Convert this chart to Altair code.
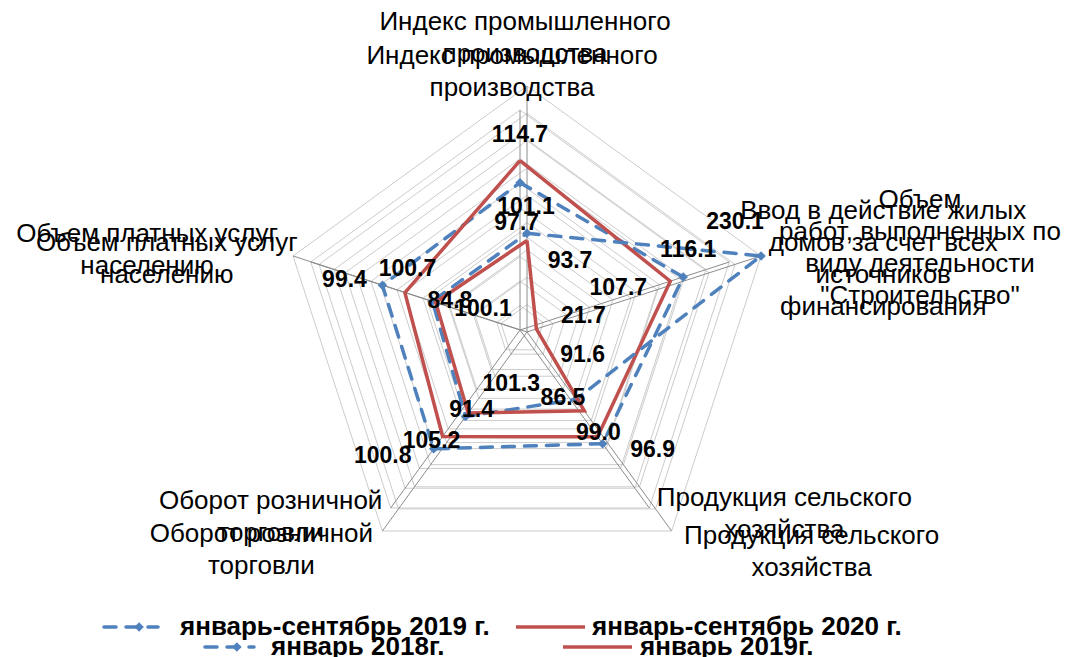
import math
import altair as alt
import pandas as pd

# ---------------- data ----------------
axis_names_1 = [
    "Индекс промышленного\nпроизводства",
    "Ввод в действие жилых\nдомов за счет всех\nисточников\nфинансирования",
    "Продукция сельского\nхозяйства",
    "Оборот розничной\nторговли",
    "Объем платных услуг\nнаселению",
]
axis_names_2 = [
    "Индекс промышленного\nпроизводства",
    "Объем\nработ, выполненных по\nвиду деятельности\n\"Строительство\"",
    "Продукция сельского\nхозяйства",
    "Оборот розничной\nторговли",
    "Объем платных услуг\nнаселению",
]
series_names = ["январь-сентябрь 2019 г.", "январь-сентябрь 2020 г.",
                "январь 2018г.", "январь 2019г."]
c1_blue = [101.1, 116.1, 96.9, 100.8, 99.4]
c1_red = [114.7, 107.7, 91.6, 91.4, 84.8]
c2_blue = [100.1, 230.1, 86.5, 105.2, 100.7]
c2_red = [93.7, 21.7, 99.0, 101.3, 97.7]

# ---------------- layout ----------------
ANGLES = [90, 18, -54, -126, 162]
GEOM = {
    1: dict(cx=520, cy=330, R=220, vmin=10, vmax=146),
    2: dict(cx=527, cy=332, R=246, vmin=13, vmax=230),
}
N_RINGS = 9
LINE_H = 32
# data-label offsets (px) from their points
LBL_OFF = {
    "c1b": [(6, 24), (5, -27), (50, 6), (-51, 7), (-38, -5)],
    "c1r": [(0, -26), (-52, 7), (-15, -82), (29, -27), (45, 8)],
    "c2b": [(-44, 76), (-26, -34), (-13, -1), (-34, 24), (-25, -32)],
    "c2r": [(43, 20), (47, -13), (14, 22), (43, -29), (81, -79)],
}
# category-label block-centre offsets (px) from axis ends
CAT_OFF = {
    1: [(-8, -38), (154, -3), (135, 6), (-120, 9), (-144, -3)],
    2: [(-2, -48), (159, -8), (140, 21), (-121, 19), (-146, -6)],
}
BLUE = "#4F81BD"
RED = "#C0504D"


def pt(g, i, v):
    gm = GEOM[g]
    r = gm["R"] * (v - gm["vmin"]) / (gm["vmax"] - gm["vmin"])
    a = math.radians(ANGLES[i])
    return gm["cx"] + r * math.cos(a), gm["cy"] - r * math.sin(a)


series = [
    ("c1b", 1, series_names[0], c1_blue, "blue"),
    ("c1r", 1, series_names[1], c1_red, "red"),
    ("c2b", 2, series_names[2], c2_blue, "blue"),
    ("c2r", 2, series_names[3], c2_red, "red"),
]

line_rows, label_rows = [], []
for key, g, name, vals, col in series:
    for j in range(6):
        i = j % 5
        x, y = pt(g, i, vals[i])
        line_rows.append(dict(key=key, series=name, col=col, order=j, x=x, y=y, v=vals[i]))
        if j < 5:
            dx, dy = LBL_OFF[key][i]
            label_rows.append(dict(key=key, x=x + dx, y=y + dy, text=f"{vals[i]:.1f}"))
lines = pd.DataFrame(line_rows)
labels = pd.DataFrame(label_rows)

ring_rows, spoke_rows, cat_rows = [], [], []
for g in (1, 2):
    gm = GEOM[g]
    for k in range(1, N_RINGS + 1):
        lv = gm["vmin"] + (gm["vmax"] - gm["vmin"]) * k / N_RINGS
        for j in range(6):
            x, y = pt(g, j % 5, lv)
            ring_rows.append(dict(ring=f"{g}-{k}", order=j, x=x, y=y))
    names = axis_names_1 if g == 1 else axis_names_2
    for i in range(5):
        x2, y2 = pt(g, i, gm["vmax"])
        spoke_rows.append(dict(x=gm["cx"], y=gm["cy"], x2=x2, y2=y2))
        dx, dy = CAT_OFF[g][i]
        n = names[i].count("\n") + 1
        # text anchor is the first line; shift so that the block is centred
        cat_rows.append(dict(x=x2 + dx, y=y2 + dy - (n - 1) * LINE_H / 2, text=names[i]))
rings = pd.DataFrame(ring_rows)
spokes = pd.DataFrame(spoke_rows)
cats = pd.DataFrame(cat_rows)

# legend
leg_items = pd.DataFrame([
    dict(name=series_names[0], col="blue", x0=104, x1=158, tx=180, y=627),
    dict(name=series_names[1], col="red", x0=516, x1=585, tx=592, y=627),
    dict(name=series_names[2], col="blue", x0=205, x1=254, tx=271, y=647),
    dict(name=series_names[3], col="red", x0=563, x1=632, tx=640, y=647),
])
leg_lines = pd.concat([
    leg_items.assign(x=leg_items.x0, o=0),
    leg_items.assign(x=leg_items.x1, o=1),
])
leg_pts = leg_items[leg_items.col == "blue"].assign(x=lambda d: d.x0 + (d.x1 - d.x0) * 0.65)

# ---------------- chart ----------------
XS = alt.Scale(domain=[8, 1061], nice=False, zero=False)
X = alt.X("x:Q", scale=XS, axis=None)
Y = alt.Y("y:Q", scale=alt.Scale(domain=[8, 649], nice=False, zero=False, reverse=True), axis=None)

ring_layer = alt.Chart(rings).mark_line(color="#CCCCCC", strokeWidth=1).encode(
    x=X, y=Y, detail="ring:N", order="order:Q")
spoke_layer = alt.Chart(spokes).mark_rule(color="#8C8C8C", strokeWidth=1).encode(
    x=X, y=Y, x2="x2:Q", y2="y2:Q")

layers = [ring_layer, spoke_layer]
for key, g, name, vals, col in series:
    d = lines[lines.key == key]
    if col == "blue":
        layers.append(alt.Chart(d).mark_line(color=BLUE, strokeWidth=3.5, strokeDash=[12, 10],
                                             strokeCap="round").encode(x=X, y=Y, order="order:Q"))
        layers.append(alt.Chart(d[d.order < 5]).mark_point(shape="diamond", filled=True, size=90,
                                                           color=BLUE, opacity=1).encode(x=X, y=Y))
    else:
        layers.append(alt.Chart(d).mark_line(color=RED, strokeWidth=3.5, strokeJoin="miter").encode(
            x=X, y=Y, order="order:Q"))

cat_layer = alt.Chart(cats).mark_text(font="Liberation Sans", fontSize=26, color="#000000",
                                      lineBreak="\n", lineHeight=LINE_H, align="center",
                                      baseline="middle").encode(x=X, y=Y, text="text:N")
lbl_layer = alt.Chart(labels).mark_text(font="Liberation Sans", fontSize=23, fontWeight="bold",
                                        color="#000000", align="center", baseline="middle").encode(
    x=X, y=Y, text="text:N")

leg_line_blue = alt.Chart(leg_lines[leg_lines.col == "blue"]).mark_line(
    color=BLUE, strokeWidth=3.5, strokeDash=[12, 10], strokeCap="round").encode(
    x=X, y=Y, detail="name:N", order="o:Q")
leg_line_red = alt.Chart(leg_lines[leg_lines.col == "red"]).mark_line(
    color=RED, strokeWidth=3.5).encode(x=X, y=Y, detail="name:N", order="o:Q")
leg_pt = alt.Chart(leg_pts).mark_point(shape="diamond", filled=True, size=90, color=BLUE,
                                       opacity=1).encode(x=X, y=Y)
leg_text = alt.Chart(leg_items).mark_text(font="Liberation Sans", fontSize=26,
                                          fontWeight="bold", align="left", baseline="middle",
                                          color="#000000").encode(
    x=alt.X("tx:Q", scale=XS, axis=None), y=Y, text="name:N")

layers += [cat_layer, lbl_layer, leg_line_blue, leg_line_red, leg_pt, leg_text]

chart = alt.layer(*layers).properties(width=1053, height=641, padding=0).configure_view(stroke=None)
chart.save("out.html", embed_options={"renderer": "svg", "actions": False})
